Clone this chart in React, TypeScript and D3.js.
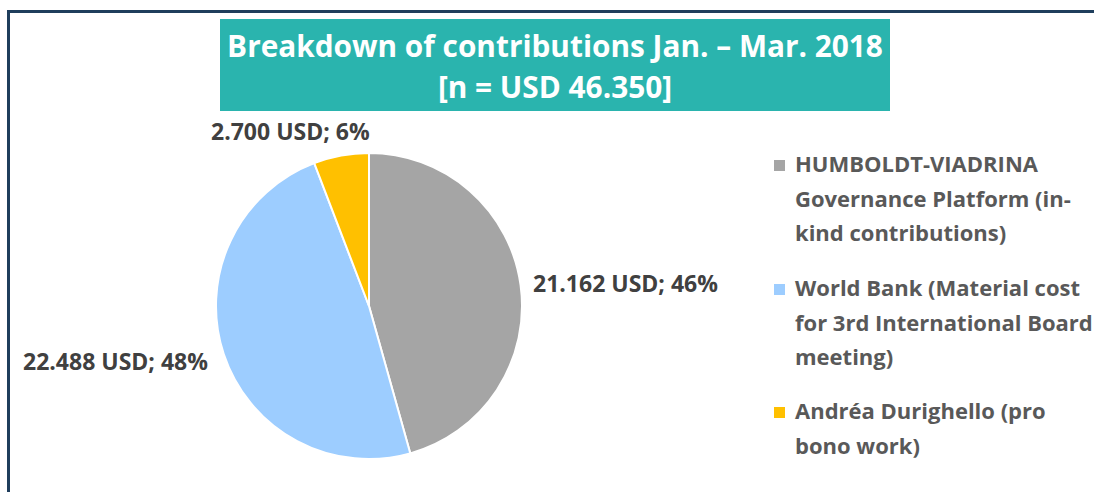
import React from "react";
import * as d3 from "d3";

const categories = [
  "HUMBOLDT-VIADRINA Governance Platform (in-kind contributions)",
  "World Bank (Material cost for 3rd International Board meeting)",
  "Andréa Durighello (pro bono work)",
];
const values = [21162, 22488, 2700];
const valueLabels = ["21.162 USD; 46%", "22.488 USD; 48%", "2.700 USD; 6%"];
const legendLines = [
  ["HUMBOLDT-VIADRINA", "Governance Platform (in-", "kind contributions)"],
  ["World Bank (Material cost", "for 3rd International Board", "meeting)"],
  ["Andréa Durighello (pro", "bono work)"],
];
const colors = ["#a5a5a5", "#9dcdff", "#ffc000"];
const titleLines = ["Breakdown of contributions Jan. – Mar. 2018", "[n = USD 46.350]"];

const W = 1094;
const H = 492;
const FONT = "'Open Sans', Lato, sans-serif";

export default function App() {
  const cx = 369;
  const cy = 306;
  const r = 153;
  const pie = d3.pie<number>().sort(null).value((d) => d);
  const arcs = pie(values);
  const arcGen = d3.arc<d3.PieArcDatum<number>>().innerRadius(0).outerRadius(r);

  const labelPos = [
    { x: 533, y: 292, anchor: "start" },
    { x: 23, y: 370, anchor: "start" },
    { x: 211, y: 140, anchor: "start" },
  ];
  const legendTop = [172, 296, 419];
  const lineH = 34.5;

  return (
    <svg width={W} height={H} style={{ position: "absolute", left: 0, top: 0 }}>
      <rect x={0} y={0} width={W} height={H} fill="#ffffff" />
      <line x1={8.5} y1={10} x2={8.5} y2={H} stroke="#1f3e5c" strokeWidth={3} />
      <line x1={7} y1={11.5} x2={W} y2={11.5} stroke="#1f3e5c" strokeWidth={3} />
      <rect x={220} y={19} width={670} height={92} fill="#2ab4ae" />
      {titleLines.map((t, i) => (
        <text
          key={i}
          x={555}
          y={57 + i * 41}
          textAnchor="middle"
          fill="#ffffff"
          fontFamily={FONT}
          fontWeight={700}
          fontSize={29.8}
        >
          {t}
        </text>
      ))}
      <g transform={`translate(${cx},${cy})`}>
        {arcs.map((a, i) => (
          <path key={i} d={arcGen(a) || ""} fill={colors[i]} stroke="#ffffff" strokeWidth={2} />
        ))}
      </g>
      {valueLabels.map((t, i) => (
        <text
          key={i}
          x={labelPos[i].x}
          y={labelPos[i].y}
          textAnchor={labelPos[i].anchor as any}
          fill="#404040"
          fontFamily={FONT}
          fontWeight={700}
          fontSize={23}
        >
          {t}
        </text>
      ))}
      {categories.map((c, i) => (
        <g key={c}>
          <rect x={774} y={legendTop[i] - 12} width={11} height={11} fill={colors[i]} />
          {legendLines[i].map((l, j) => (
            <text
              key={j}
              x={795}
              y={legendTop[i] + j * lineH}
              fill="#595959"
              fontFamily={FONT}
              fontWeight={700}
              fontSize={22}
            >
              {l}
            </text>
          ))}
        </g>
      ))}
    </svg>
  );
}
